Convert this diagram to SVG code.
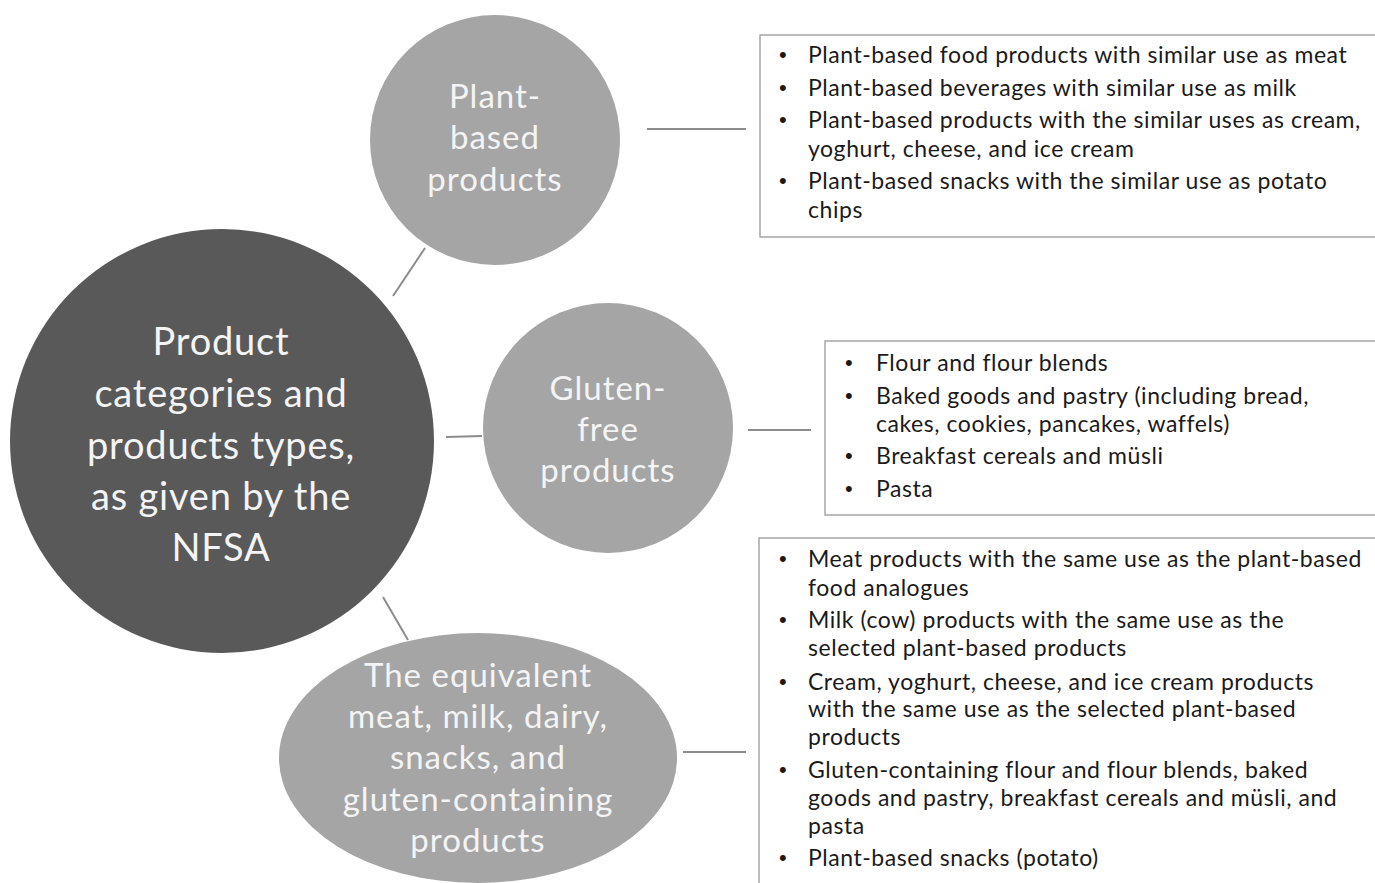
<svg xmlns="http://www.w3.org/2000/svg" width="1375" height="883" viewBox="0 0 1375 883">
  <style>
    .hub { fill: #595959; }
    .cat { fill: #a5a5a5; }
    .hub-text { font-family: Lato, "Liberation Sans", sans-serif; font-size: 38px; letter-spacing: 0.8px; fill: #f4f4f4; text-anchor: middle; }
    .cat-text { font-family: Lato, "Liberation Sans", sans-serif; font-size: 33px; letter-spacing: 1px; fill: #f4f4f4; text-anchor: middle; }
    .box { fill: #ffffff; stroke: #a6a6a6; stroke-width: 1.5; }
    .item { font-family: Lato, "Liberation Sans", sans-serif; font-size: 23px; letter-spacing: 0.55px; fill: #1a1a1a; }
    .bullet { font-family: "Liberation Sans", sans-serif; font-size: 22px; fill: #1a1a1a; }
    .link { stroke: #8c8c8c; stroke-width: 2; fill: none; }
  </style>
  <rect width="1375" height="883" fill="#ffffff"/>

  <!-- connectors -->
  <g id="connectors">
    <line class="link" x1="393" y1="296" x2="425" y2="248"/>
    <line class="link" x1="446" y1="437" x2="482" y2="436"/>
    <line class="link" x1="383" y1="597" x2="408" y2="640"/>
    <line class="link" x1="647" y1="129" x2="746" y2="129"/>
    <line class="link" x1="748" y1="430" x2="811" y2="430"/>
    <line class="link" x1="683" y1="752" x2="746" y2="752"/>
  </g>

  <!-- central node -->
  <g id="node-hub">
    <circle class="hub" cx="222" cy="441" r="212"/>
    <text class="hub-text" x="221" y="355">Product</text>
    <text class="hub-text" x="221" y="407">categories and</text>
    <text class="hub-text" x="221" y="459">products types,</text>
    <text class="hub-text" x="221" y="510">as given by the</text>
    <text class="hub-text" x="221" y="561">NFSA</text>
  </g>

  <!-- category: plant-based -->
  <g id="node-plant">
    <circle class="cat" cx="495" cy="140" r="125"/>
    <text class="cat-text" x="495" y="108">Plant-</text>
    <text class="cat-text" x="495" y="149">based</text>
    <text class="cat-text" x="495" y="191">products</text>
  </g>

  <!-- category: gluten-free -->
  <g id="node-gluten">
    <circle class="cat" cx="608" cy="428" r="125"/>
    <text class="cat-text" x="608" y="400">Gluten-</text>
    <text class="cat-text" x="608" y="441">free</text>
    <text class="cat-text" x="608" y="482">products</text>
  </g>

  <!-- category: conventional equivalents -->
  <g id="node-equivalent">
    <ellipse class="cat" cx="478" cy="758" rx="199" ry="125"/>
    <text class="cat-text" x="478" y="687">The equivalent</text>
    <text class="cat-text" x="478" y="728">meat, milk, dairy,</text>
    <text class="cat-text" x="478" y="769">snacks, and</text>
    <text class="cat-text" x="478" y="811">gluten-containing</text>
    <text class="cat-text" x="478" y="852">products</text>
  </g>

  <!-- product list: plant-based -->
  <g id="list-plant">
    <rect class="box" x="760" y="35" width="620" height="202"/>
    <g class="bullet">
      <text x="779" y="62">•</text>
      <text x="779" y="95">•</text>
      <text x="779" y="127">•</text>
      <text x="779" y="188">•</text>
    </g>
    <g class="item">
      <text x="808" y="63">Plant-based food products with similar use as meat</text>
      <text x="808" y="96">Plant-based beverages with similar use as milk</text>
      <text x="808" y="128">Plant-based products with the similar uses as cream,</text>
      <text x="808" y="157">yoghurt, cheese, and ice cream</text>
      <text x="808" y="189">Plant-based snacks with the similar use as potato</text>
      <text x="808" y="218">chips</text>
    </g>
  </g>

  <!-- product list: gluten-free -->
  <g id="list-gluten">
    <rect class="box" x="825" y="341" width="555" height="174"/>
    <g class="bullet">
      <text x="845" y="370">•</text>
      <text x="845" y="403">•</text>
      <text x="845" y="463">•</text>
      <text x="845" y="496">•</text>
    </g>
    <g class="item">
      <text x="876" y="371">Flour and flour blends</text>
      <text x="876" y="404">Baked goods and pastry (including bread,</text>
      <text x="876" y="432">cakes, cookies, pancakes, waffels)</text>
      <text x="876" y="464">Breakfast cereals and müsli</text>
      <text x="876" y="497">Pasta</text>
    </g>
  </g>

  <!-- product list: conventional equivalents -->
  <g id="list-equivalent">
    <rect class="box" x="759" y="538" width="621" height="360"/>
    <g class="bullet">
      <text x="779" y="566">•</text>
      <text x="779" y="627">•</text>
      <text x="779" y="689">•</text>
      <text x="779" y="777">•</text>
      <text x="779" y="865">•</text>
    </g>
    <g class="item">
      <text x="808" y="567">Meat products with the same use as the plant-based</text>
      <text x="808" y="596">food analogues</text>
      <text x="808" y="628">Milk (cow) products with the same use as the</text>
      <text x="808" y="656">selected plant-based products</text>
      <text x="808" y="690">Cream, yoghurt, cheese, and ice cream products</text>
      <text x="808" y="717">with the same use as the selected plant-based</text>
      <text x="808" y="745">products</text>
      <text x="808" y="778">Gluten-containing flour and flour blends, baked</text>
      <text x="808" y="806">goods and pastry, breakfast cereals and müsli, and</text>
      <text x="808" y="834">pasta</text>
      <text x="808" y="866">Plant-based snacks (potato)</text>
    </g>
  </g>
</svg>
